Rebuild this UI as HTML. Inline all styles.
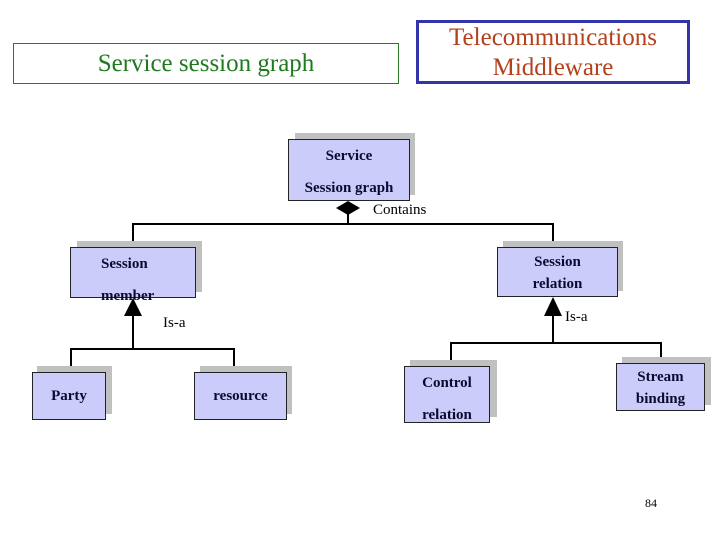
<!DOCTYPE html>
<html><head><style>
body{margin:0;width:720px;height:540px;background:#fff;position:relative;overflow:hidden;font-family:"Liberation Serif",serif}
.s{position:absolute;background:#c0c0c0}
.b{position:absolute;background:#ccccfa;border:1px solid #222;box-sizing:border-box;font-weight:bold;font-size:15px;color:#0a0a30;text-align:center}
.t{position:absolute;font-size:15px;white-space:nowrap}
.l{position:absolute;background:#000}
</style></head><body>
<div style="position:absolute;left:13px;top:43px;width:386px;height:41px;border:1px solid #2a7a2a;box-sizing:border-box;color:#1f7a1f;font-size:25px;text-align:center;line-height:40px">Service session graph</div>
<div style="position:absolute;left:416px;top:20px;width:274px;height:64px;border:3px solid #3333aa;box-sizing:border-box;color:#b5401c;font-size:25px;text-align:center;line-height:30px">Telecommunications<br>Middleware</div>

<div class="s" style="left:295px;top:133px;width:120px;height:62px"></div>
<div class="b" style="left:288px;top:139px;width:122px;height:62px;line-height:32px;padding-top:0">Service<br>Session graph</div>

<div class="l" style="left:133px;top:223px;width:421px;height:2px"></div>
<div class="l" style="left:347px;top:212px;width:2px;height:12px"></div>
<svg style="position:absolute;left:335px;top:200px" width="26" height="16"><polygon points="13,1 25,8 13,15 1,8" fill="#000"/></svg>
<div class="t" style="left:373px;top:202px">Contains</div>

<div class="l" style="left:132px;top:223px;width:2px;height:24px"></div>
<div class="l" style="left:552px;top:223px;width:2px;height:24px"></div>

<div class="s" style="left:77px;top:241px;width:125px;height:51px"></div>
<div class="b" style="left:70px;top:247px;width:126px;height:51px;line-height:32px;text-align:left;padding-left:30px">Session<br>member</div>
<div class="s" style="left:503px;top:241px;width:120px;height:50px"></div>
<div class="b" style="left:497px;top:247px;width:121px;height:50px;line-height:22px;padding-top:3px">Session<br>relation</div>

<svg style="position:absolute;left:0;top:0" width="720" height="540">
<polygon points="133,298 124,316 142,316" fill="#000"/>
<polygon points="553,297 544,316 562,316" fill="#000"/>
</svg>
<div class="l" style="left:132px;top:314px;width:2px;height:36px"></div>
<div class="l" style="left:70px;top:348px;width:165px;height:2px"></div>
<div class="l" style="left:70px;top:348px;width:2px;height:24px"></div>
<div class="l" style="left:233px;top:348px;width:2px;height:24px"></div>
<div class="t" style="left:163px;top:315px">Is-a</div>

<div class="l" style="left:552px;top:314px;width:2px;height:30px"></div>
<div class="l" style="left:450px;top:342px;width:212px;height:2px"></div>
<div class="l" style="left:450px;top:342px;width:2px;height:24px"></div>
<div class="l" style="left:660px;top:342px;width:2px;height:21px"></div>
<div class="t" style="left:565px;top:309px">Is-a</div>

<div class="s" style="left:37px;top:366px;width:75px;height:48px"></div>
<div class="b" style="left:32px;top:372px;width:74px;height:48px;line-height:46px">Party</div>
<div class="s" style="left:200px;top:366px;width:92px;height:48px"></div>
<div class="b" style="left:194px;top:372px;width:93px;height:48px;line-height:46px">resource</div>
<div class="s" style="left:410px;top:360px;width:87px;height:57px"></div>
<div class="b" style="left:404px;top:366px;width:86px;height:57px;line-height:32px;padding-top:-2px">Control<br>relation</div>
<div class="s" style="left:622px;top:357px;width:89px;height:48px"></div>
<div class="b" style="left:616px;top:363px;width:89px;height:48px;line-height:22px;padding-top:2px">Stream<br>binding</div>

<div class="t" style="left:645px;top:496px;font-size:12px">84</div>
</body></html>
